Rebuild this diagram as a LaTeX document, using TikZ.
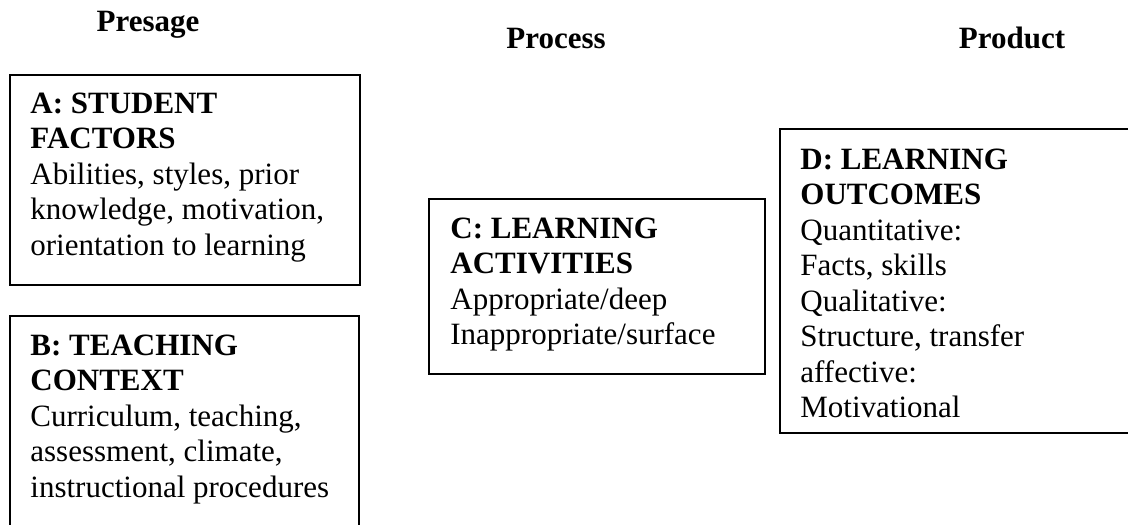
\documentclass[tikz,border=0pt]{standalone}
\usepackage{fontspec}
\setmainfont{Liberation Serif}
\begin{document}
\begin{tikzpicture}[x=0.5pt,y=-0.5pt,
  frame/.style={draw=black,line width=1pt,inner sep=0pt},
  % multi-line texts: the base anchor sits on the last line
  body/.style={anchor=base west,inner sep=0pt,align=left,
    font=\fontsize{15.5pt}{17.75pt}\selectfont},
  head/.style={anchor=base,inner sep=0pt,
    font=\fontsize{15.5pt}{17.75pt}\selectfont\bfseries}]
\useasboundingbox (0,0) rectangle (1128,524);
\clip (0,0) rectangle (1128,524);

% column headings
\node[head] (presage) at (148,32) {Presage};
\node[head] (process) at (556,49) {Process};
\node[head] (product) at (1012,49) {Product};

% boxes
\draw[frame] (10,75) rectangle (360,285) coordinate (A);
\draw[frame] (10,316) rectangle (359,560) coordinate (B);
\draw[frame] (429,199) rectangle (765,374) coordinate (C);
\draw[frame] (780,129) rectangle (1140,433) coordinate (D);

% box texts
\node[body] (Atext) at (30,255) {\textbf{A: STUDENT}\\\textbf{FACTORS}\\Abilities, styles, prior\\knowledge, motivation,\\orientation to learning};
\node[body] (Btext) at (30,497) {\textbf{B: TEACHING}\\\textbf{CONTEXT}\\Curriculum, teaching,\\assessment, climate,\\instructional procedures};
\node[body] (Ctext) at (450,344.5) {\textbf{C: LEARNING}\\\textbf{ACTIVITIES}\\Appropriate/deep\\Inappropriate/surface};
\node[body] (Dtext) at (800,417.5) {\textbf{D: LEARNING}\\\textbf{OUTCOMES}\\Quantitative:\\Facts, skills\\Qualitative:\\Structure, transfer\\affective:\\Motivational};
\end{tikzpicture}
\end{document}
